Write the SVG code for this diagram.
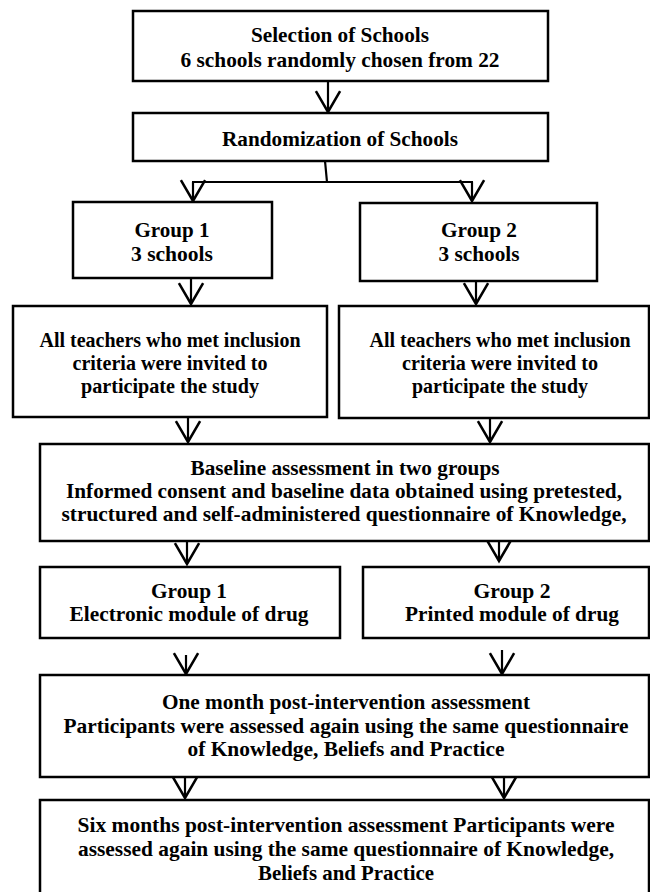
<svg xmlns="http://www.w3.org/2000/svg" width="650" height="892" viewBox="0 0 650 892">
<defs>
<style>
.box{fill:#fff;stroke:#000;stroke-width:2.5}
.t{font-family:"Liberation Serif","Times New Roman",serif;font-weight:bold;font-size:22px;fill:#000;text-anchor:middle}
.c{fill:none;stroke:#000;stroke-width:2.2}
</style>
<marker id="ah" markerUnits="userSpaceOnUse" markerWidth="30" markerHeight="30" viewBox="-2 -13 24 26" refX="18" refY="0" orient="auto" overflow="visible">
<path d="M0,-10.5 L18,0 L0,10.5" fill="none" stroke="#000" stroke-width="2.2"/>
</marker>
</defs>
<rect width="650" height="892" fill="#fff"/>
<g id="connectors">
<line class="c" x1="328" y1="81" x2="328" y2="112" marker-end="url(#ah)"/>
<polyline class="c" points="325,161 327,182"/>
<line class="c" x1="192" y1="182" x2="473" y2="182"/>
<line class="c" x1="193" y1="182" x2="193" y2="201" marker-end="url(#ah)"/>
<line class="c" x1="472" y1="182" x2="472" y2="201" marker-end="url(#ah)"/>
<line class="c" x1="191" y1="278" x2="191" y2="304" marker-end="url(#ah)"/>
<line class="c" x1="476" y1="281" x2="476" y2="304" marker-end="url(#ah)"/>
<line class="c" x1="188" y1="417" x2="188" y2="442" marker-end="url(#ah)"/>
<line class="c" x1="490" y1="418" x2="490" y2="442" marker-end="url(#ah)"/>
<line class="c" x1="187" y1="541" x2="187" y2="564" marker-end="url(#ah)"/>
<line class="c" x1="499" y1="535" x2="499" y2="561" marker-end="url(#ah)"/>
<line class="c" x1="186" y1="655" x2="186" y2="674" marker-end="url(#ah)"/>
<line class="c" x1="502" y1="650" x2="502" y2="674" marker-end="url(#ah)"/>
<line class="c" x1="185" y1="777" x2="185" y2="798" marker-end="url(#ah)"/>
<line class="c" x1="504" y1="777" x2="504" y2="798" marker-end="url(#ah)"/>
</g>
<g id="selection">
<rect class="box" x="133" y="11" width="415" height="70"/>
<text class="t" x="340" y="42" textLength="178" lengthAdjust="spacingAndGlyphs">Selection of Schools</text>
<text class="t" x="340" y="67" textLength="319" lengthAdjust="spacingAndGlyphs">6 schools randomly chosen from 22</text>
</g>
<g id="randomization">
<rect class="box" x="133" y="113" width="415" height="48"/>
<text class="t" x="340" y="146" textLength="236" lengthAdjust="spacingAndGlyphs">Randomization of Schools</text>
</g>
<g id="group1">
<rect class="box" x="73" y="202" width="199" height="76"/>
<text class="t" x="172" y="237" textLength="75" lengthAdjust="spacingAndGlyphs">Group 1</text>
<text class="t" x="172" y="261" textLength="82" lengthAdjust="spacingAndGlyphs">3 schools</text>
</g>
<g id="group2">
<rect class="box" x="360" y="203" width="237" height="78"/>
<text class="t" x="479" y="237" textLength="76" lengthAdjust="spacingAndGlyphs">Group 2</text>
<text class="t" x="479" y="261" textLength="81" lengthAdjust="spacingAndGlyphs">3 schools</text>
</g>
<g id="teachers1">
<rect class="box" x="13" y="306" width="314" height="111"/>
<text class="t" x="170" y="347" textLength="261" lengthAdjust="spacingAndGlyphs">All teachers who met inclusion</text>
<text class="t" x="170" y="370" textLength="195" lengthAdjust="spacingAndGlyphs">criteria were invited to</text>
<text class="t" x="170" y="393" textLength="178" lengthAdjust="spacingAndGlyphs">participate the study</text>
</g>
<g id="teachers2">
<rect class="box" x="339" y="306" width="310" height="112"/>
<text class="t" x="500" y="347" textLength="261" lengthAdjust="spacingAndGlyphs">All teachers who met inclusion</text>
<text class="t" x="500" y="370" textLength="196" lengthAdjust="spacingAndGlyphs">criteria were invited to</text>
<text class="t" x="500" y="393" textLength="176" lengthAdjust="spacingAndGlyphs">participate the study</text>
</g>
<g id="baseline">
<rect class="box" x="40" y="444" width="609" height="97"/>
<text class="t" x="345" y="475" textLength="309" lengthAdjust="spacingAndGlyphs">Baseline assessment in two groups</text>
<text class="t" x="344" y="498" textLength="556" lengthAdjust="spacingAndGlyphs">Informed consent and baseline data obtained using pretested,</text>
<text class="t" x="344" y="521" textLength="565" lengthAdjust="spacingAndGlyphs">structured and self-administered questionnaire of Knowledge,</text>
</g>
<g id="electronic">
<rect class="box" x="40" y="567" width="300" height="71"/>
<text class="t" x="189" y="598" textLength="76" lengthAdjust="spacingAndGlyphs">Group 1</text>
<text class="t" x="189" y="621" textLength="239" lengthAdjust="spacingAndGlyphs">Electronic module of drug</text>
</g>
<g id="printed">
<rect class="box" x="363" y="567" width="286" height="71"/>
<text class="t" x="512" y="598" textLength="77" lengthAdjust="spacingAndGlyphs">Group 2</text>
<text class="t" x="512" y="621" textLength="214" lengthAdjust="spacingAndGlyphs">Printed module of drug</text>
</g>
<g id="onemonth">
<rect class="box" x="40" y="675" width="609" height="102"/>
<text class="t" x="346" y="709" textLength="368" lengthAdjust="spacingAndGlyphs">One month post-intervention assessment</text>
<text class="t" x="346" y="733" textLength="565" lengthAdjust="spacingAndGlyphs">Participants were assessed again using the same questionnaire</text>
<text class="t" x="346" y="756" textLength="317" lengthAdjust="spacingAndGlyphs">of Knowledge, Beliefs and Practice</text>
</g>
<g id="sixmonths">
<rect class="box" x="40" y="800" width="609" height="110"/>
<text class="t" x="346" y="832" textLength="537" lengthAdjust="spacingAndGlyphs">Six months post-intervention assessment Participants were</text>
<text class="t" x="346" y="856" textLength="536" lengthAdjust="spacingAndGlyphs">assessed again using the same questionnaire of Knowledge,</text>
<text class="t" x="346" y="880" textLength="176" lengthAdjust="spacingAndGlyphs">Beliefs and Practice</text>
</g>
</svg>
